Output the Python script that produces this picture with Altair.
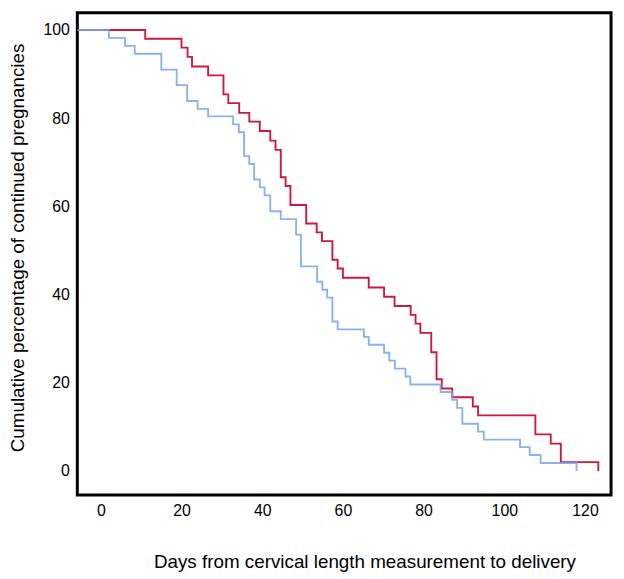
import altair as alt
import pandas as pd

# Kaplan-Meier style step curves
red_days = [-5.8, 11.0, 20.0, 21.5, 22.6, 26.6, 30.4, 31.6, 34.3, 36.8, 39.4, 42.0, 43.3,
            44.6, 45.8, 47.0, 50.9, 53.5, 54.8, 57.4, 58.7, 60.0, 66.4, 70.2, 72.8,
            76.8, 78.0, 79.2, 81.9, 83.2, 84.5, 87.1, 92.2, 93.5, 107.7, 111.5, 114.0, 123.3]
red_pct = [100, 98.0, 96.0, 93.9, 91.7, 89.7, 85.4, 83.4, 81.2, 79.2, 77.1, 74.9, 72.8,
           66.6, 64.6, 60.3, 56.1, 54.1, 52.1, 47.9, 45.9, 43.8, 41.6, 39.5, 37.4,
           35.4, 33.4, 31.3, 26.9, 20.8, 18.7, 16.7, 14.6, 12.6, 8.3, 6.2, 2.0, 0]

blue_days = [-5.8, 2.0, 6.0, 8.4, 15.0, 18.8, 21.4, 24.0, 26.6, 32.8, 34.2, 35.5, 36.8,
             38.0, 39.4, 40.6, 42.0, 44.6, 48.4, 49.6, 53.6, 54.9, 56.1, 57.4, 58.7,
             65.2, 66.4, 70.2, 71.5, 72.9, 75.5, 76.7, 84.2, 87.1, 88.3, 89.6, 93.5,
             94.9, 103.9, 106.3, 109.0, 117.9]
blue_pct = [100, 98.2, 96.4, 94.6, 91.0, 87.5, 83.9, 82.1, 80.4, 78.6, 76.8, 71.4, 69.6,
            66.1, 64.3, 62.5, 58.9, 57.1, 53.6, 46.4, 42.9, 41.1, 39.3, 33.9, 32.1,
            30.4, 28.6, 26.8, 25.0, 23.2, 21.4, 19.6, 17.9, 16.1, 14.3, 10.7, 8.9,
            7.1, 5.4, 3.6, 1.8, 0]

x_ticks = [0, 20, 40, 60, 80, 100, 120]
y_ticks = [0, 20, 40, 60, 80, 100]

rows = []
for i, (d, p) in enumerate(zip(red_days, red_pct)):
    rows.append({"day": d, "pct": p, "group": "red", "ord": i})
for i, (d, p) in enumerate(zip(blue_days, blue_pct)):
    rows.append({"day": d, "pct": p, "group": "blue", "ord": i})
df = pd.DataFrame(rows)

FONT = "Liberation Sans"

x_enc = alt.X("day:Q",
              scale=alt.Scale(domain=[-5.82, 126.45], nice=False, zero=False),
              axis=alt.Axis(values=x_ticks, title="Days from cervical length measurement to delivery",
                            labelPadding=8, titleX=290, titleY=58, titleAlign="center",
                            titleBaseline="top", titleFontSize=19))
y_enc = alt.Y("pct:Q",
              scale=alt.Scale(domain=[-5.46, 103.9], nice=False, zero=False),
              axis=alt.Axis(values=y_ticks, title="Cumulative percentage of continued pregnancies",
                            labelPadding=8, titlePadding=16, titleY=237, titleFontSize=19))

base = alt.Chart(df)

red = base.transform_filter(alt.datum.group == "red").mark_line(
    interpolate="step-after", color="#cc1942", strokeWidth=1.9, clip=True
).encode(x=x_enc, y=y_enc, order="ord:Q")

blue = base.transform_filter(alt.datum.group == "blue").mark_line(
    interpolate="step-after", color="#78a5e6", strokeWidth=1.9, opacity=0.85, clip=True
).encode(x=x_enc, y=y_enc, order="ord:Q")

chart = alt.layer(red, blue).properties(
    width=539, height=487,
    padding={"left": 70, "top": 2, "right": 5, "bottom": 80},
    autosize=alt.AutoSizeParams(type="none"),
    background="white",
).configure_view(
    stroke="black", strokeWidth=3
).configure_axis(
    grid=False, domain=False, ticks=False,
    labelFont=FONT, labelFontSize=16, labelColor="black",
    titleFont=FONT, titleFontWeight="normal", titleColor="black",
)

chart.save("out.html", embed_options={"renderer": "svg", "actions": False})
